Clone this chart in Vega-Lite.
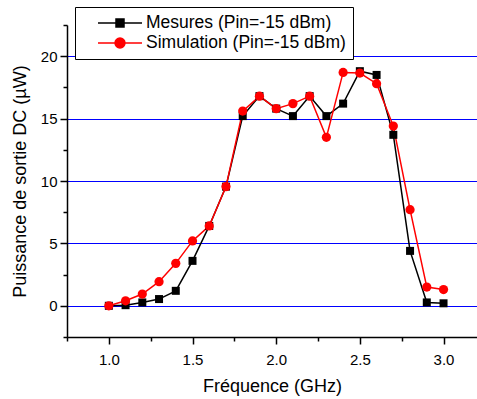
{
  "$schema": "https://vega.github.io/schema/vega-lite/v6.json",
  "width": 410,
  "height": 312,
  "autosize": "none",
  "padding": {"left": 67, "top": 25, "right": 0, "bottom": 62},
  "config": {
    "view": {"stroke": null},
    "font": "Liberation Sans",
    "legend": {
      "orient": "none", "legendX": 8, "legendY": -18,
      "strokeColor": "black", "fillColor": "white",
      "padding": 7, "symbolOffset": 29, "symbolSize": 256,
      "labelFontSize": 17.5, "labelFont": "Liberation Sans", "labelColor": "black",
      "labelOffset": 17, "rowPadding": 2, "labelLimit": 400,
      "symbolOpacity": 1, "symbolStrokeWidth": 1.5
    }
  },
  "data": {"values": [
    {"series": "Mesures (Pin=-15 dBm)", "f": 1.0, "v": 0.0},
    {"series": "Mesures (Pin=-15 dBm)", "f": 1.1, "v": 0.05},
    {"series": "Mesures (Pin=-15 dBm)", "f": 1.2, "v": 0.27},
    {"series": "Mesures (Pin=-15 dBm)", "f": 1.3, "v": 0.54},
    {"series": "Mesures (Pin=-15 dBm)", "f": 1.4, "v": 1.2},
    {"series": "Mesures (Pin=-15 dBm)", "f": 1.5, "v": 3.6},
    {"series": "Mesures (Pin=-15 dBm)", "f": 1.6, "v": 6.4},
    {"series": "Mesures (Pin=-15 dBm)", "f": 1.7, "v": 9.55},
    {"series": "Mesures (Pin=-15 dBm)", "f": 1.8, "v": 15.2},
    {"series": "Mesures (Pin=-15 dBm)", "f": 1.9, "v": 16.8},
    {"series": "Mesures (Pin=-15 dBm)", "f": 2.0, "v": 15.8},
    {"series": "Mesures (Pin=-15 dBm)", "f": 2.1, "v": 15.2},
    {"series": "Mesures (Pin=-15 dBm)", "f": 2.2, "v": 16.8},
    {"series": "Mesures (Pin=-15 dBm)", "f": 2.3, "v": 15.2},
    {"series": "Mesures (Pin=-15 dBm)", "f": 2.4, "v": 16.2},
    {"series": "Mesures (Pin=-15 dBm)", "f": 2.5, "v": 18.8},
    {"series": "Mesures (Pin=-15 dBm)", "f": 2.6, "v": 18.5},
    {"series": "Mesures (Pin=-15 dBm)", "f": 2.7, "v": 13.7},
    {"series": "Mesures (Pin=-15 dBm)", "f": 2.8, "v": 4.4},
    {"series": "Mesures (Pin=-15 dBm)", "f": 2.9, "v": 0.27},
    {"series": "Mesures (Pin=-15 dBm)", "f": 3.0, "v": 0.2},
    {"series": "Simulation (Pin=-15 dBm)", "f": 1.0, "v": 0.0},
    {"series": "Simulation (Pin=-15 dBm)", "f": 1.1, "v": 0.4},
    {"series": "Simulation (Pin=-15 dBm)", "f": 1.2, "v": 0.94},
    {"series": "Simulation (Pin=-15 dBm)", "f": 1.3, "v": 1.93},
    {"series": "Simulation (Pin=-15 dBm)", "f": 1.4, "v": 3.4},
    {"series": "Simulation (Pin=-15 dBm)", "f": 1.5, "v": 5.2},
    {"series": "Simulation (Pin=-15 dBm)", "f": 1.6, "v": 6.4},
    {"series": "Simulation (Pin=-15 dBm)", "f": 1.7, "v": 9.55},
    {"series": "Simulation (Pin=-15 dBm)", "f": 1.8, "v": 15.6},
    {"series": "Simulation (Pin=-15 dBm)", "f": 1.9, "v": 16.8},
    {"series": "Simulation (Pin=-15 dBm)", "f": 2.0, "v": 15.8},
    {"series": "Simulation (Pin=-15 dBm)", "f": 2.1, "v": 16.2},
    {"series": "Simulation (Pin=-15 dBm)", "f": 2.2, "v": 16.8},
    {"series": "Simulation (Pin=-15 dBm)", "f": 2.3, "v": 13.5},
    {"series": "Simulation (Pin=-15 dBm)", "f": 2.4, "v": 18.7},
    {"series": "Simulation (Pin=-15 dBm)", "f": 2.5, "v": 18.65},
    {"series": "Simulation (Pin=-15 dBm)", "f": 2.6, "v": 17.8},
    {"series": "Simulation (Pin=-15 dBm)", "f": 2.7, "v": 14.4},
    {"series": "Simulation (Pin=-15 dBm)", "f": 2.8, "v": 7.7},
    {"series": "Simulation (Pin=-15 dBm)", "f": 2.9, "v": 1.5},
    {"series": "Simulation (Pin=-15 dBm)", "f": 3.0, "v": 1.3}
  ]},
  "layer": [
    {
      "mark": {"type": "line", "strokeWidth": 1.5},
      "encoding": {
        "x": {
          "field": "f", "type": "quantitative",
          "scale": {"domain": [0.75, 3.2], "nice": false, "zero": false},
          "axis": {
            "orient": "bottom",
            "values": [1, 1.5, 2, 2.5, 3], "format": ".1f",
            "tickSize": 7, "grid": false,
            "domainColor": "black", "domainWidth": 1.5,
            "tickColor": "black", "tickWidth": 1.5,
            "labelFontSize": 15, "labelColor": "black", "labelFont": "Liberation Sans",
            "labelPadding": 8, "labelOverlap": false, "labelFlush": false,
            "title": "Fréquence (GHz)", "titleFontSize": 18, "titleFontWeight": "normal",
            "titleColor": "black", "titleFont": "Liberation Sans", "titlePadding": 10
          }
        },
        "y": {
          "field": "v", "type": "quantitative",
          "scale": {"domain": [-2.5, 22.5], "nice": false, "zero": false},
          "axis": {
            "orient": "left",
            "values": [0, 5, 10, 15, 20], "format": "d",
            "tickSize": 7,
            "grid": true, "gridColor": "#0000ff", "gridWidth": 1, "gridOpacity": 1,
            "domainColor": "black", "domainWidth": 1.5,
            "tickColor": "black", "tickWidth": 1.5,
            "labelFontSize": 15, "labelColor": "black", "labelFont": "Liberation Sans",
            "labelPadding": 3, "labelOverlap": false, "labelFlush": false,
            "title": "Puissance de sortie DC (µW)", "titleFontSize": 18, "titleFontWeight": "normal",
            "titleColor": "black", "titleFont": "Liberation Sans", "titlePadding": 11
          }
        },
        "color": {"field": "series", "type": "nominal",
          "scale": {"domain": ["Mesures (Pin=-15 dBm)", "Simulation (Pin=-15 dBm)"], "range": ["#000000", "#ff0000"]},
          "legend": null}
      }
    },
    {
      "transform": [{"filter": "datum.series == 'Mesures (Pin=-15 dBm)'"}],
      "mark": {"type": "point", "shape": "square", "filled": true, "opacity": 1, "size": 64, "color": "#000000"},
      "encoding": {
        "x": {"field": "f", "type": "quantitative", "axis": null},
        "y": {"field": "v", "type": "quantitative", "axis": null}
      }
    },
    {
      "transform": [{"filter": "datum.series == 'Simulation (Pin=-15 dBm)'"}],
      "mark": {"type": "point", "shape": "circle", "filled": true, "opacity": 1, "size": 85, "color": "#ff0000"},
      "encoding": {
        "x": {"field": "f", "type": "quantitative", "axis": null},
        "y": {"field": "v", "type": "quantitative", "axis": null}
      }
    },
    {
      "mark": {"type": "point", "filled": true, "opacity": 0, "strokeWidth": 1.5},
      "encoding": {
        "x": {"field": "f", "type": "quantitative",
          "axis": {"orient": "bottom", "values": [0.75, 1.25, 1.75, 2.25, 2.75], "tickSize": 4, "tickWidth": 1.5, "tickColor": "black",
                   "labels": false, "domain": false, "grid": false, "title": null}},
        "y": {"field": "v", "type": "quantitative",
          "axis": {"orient": "left", "values": [-2.5, 2.5, 7.5, 12.5, 17.5, 22.5], "tickSize": 4, "tickWidth": 1.5, "tickColor": "black",
                   "labels": false, "domain": false, "grid": false, "title": null}},
        "fill": {"field": "series", "type": "nominal",
          "scale": {"domain": ["Mesures (Pin=-15 dBm)", "Simulation (Pin=-15 dBm)"], "range": ["#000000", "#ff0000"]},
          "legend": {"title": null}},
        "stroke": {"field": "series", "type": "nominal",
          "scale": {"domain": ["Mesures (Pin=-15 dBm)", "Simulation (Pin=-15 dBm)"], "range": ["#000000", "#ff0000"]},
          "legend": {"title": null}},
        "shape": {"field": "series", "type": "nominal",
          "scale": {"domain": ["Mesures (Pin=-15 dBm)", "Simulation (Pin=-15 dBm)"],
                    "range": ["M-2.75,0H2.75M-0.5,-0.5H0.5V0.5H-0.5Z", "M-2.75,0H2.75M0.62,0A0.62,0.62,0,1,1,-0.62,0A0.62,0.62,0,1,1,0.62,0Z"]},
          "legend": {"title": null}}
      }
    }
  ],
  "resolve": {
    "scale": {"shape": "independent", "fill": "independent", "stroke": "independent"},
    "axis": {"x": "independent", "y": "independent"}
  }
}
